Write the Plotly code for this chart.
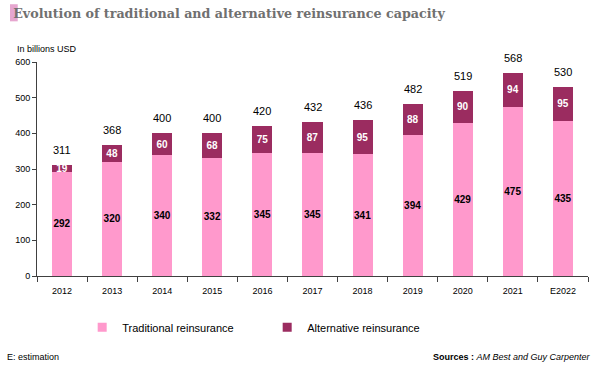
import plotly.graph_objects as go

years = ["2012", "2013", "2014", "2015", "2016", "2017", "2018", "2019", "2020", "2021", "E2022"]
traditional = [292, 320, 340, 332, 345, 345, 341, 394, 429, 475, 435]
alternative = [19, 48, 60, 68, 75, 87, 95, 88, 90, 94, 95]
totals = [311, 368, 400, 400, 420, 432, 436, 482, 519, 568, 530]
y_ticks = [0, 100, 200, 300, 400, 500, 600]

PINK = "#FF99CC"
PLUM = "#9B2C60"
FONT = "Liberation Sans, Arial, sans-serif"

fig = go.Figure()
fig.add_bar(x=years, y=traditional, name="Traditional reinsurance",
            marker=dict(color=PINK, line=dict(width=0)),
            text=[str(v) for v in traditional], textposition="inside",
            insidetextanchor="middle", textangle=0, showlegend=False,
            textfont=dict(color="black", size=10, family=FONT, weight="bold"),
            width=0.4)
fig.add_bar(x=years, y=alternative, name="Alternative reinsurance",
            marker=dict(color=PLUM, line=dict(width=0)),
            text=[str(v) for v in alternative], textposition="inside",
            insidetextanchor="middle", textangle=0, showlegend=False,
            textfont=dict(color="white", size=10, family=FONT, weight="bold"),
            width=0.4)
# legend entries with small square swatches
for name, col in [("Traditional reinsurance", PINK), ("Alternative reinsurance", PLUM)]:
    fig.add_scatter(x=[None], y=[None], mode="markers", name=name,
                    marker=dict(symbol="square", size=9, color=col))

for i, (t, tr, al) in enumerate(zip(totals, traditional, alternative)):
    fig.add_annotation(x=i, y=tr + al, text=str(t), showarrow=False,
                       yanchor="bottom", yshift=7,
                       font=dict(size=11, color="black", family=FONT))

fig.add_annotation(xref="paper", yref="paper", x=-0.04, y=1.03, xanchor="left", yanchor="bottom",
                   text="In billions USD", showarrow=False,
                   font=dict(size=9, color="black", family=FONT))
fig.add_annotation(xref="paper", yref="paper", x=-0.058, y=-0.38, xanchor="left", yanchor="middle",
                   text="E: estimation", showarrow=False,
                   font=dict(size=9, color="black", family=FONT))
fig.add_annotation(xref="paper", yref="paper", x=1.009, y=-0.38, xanchor="right", yanchor="middle",
                   text="<b>Sources :</b> <i>AM Best and Guy Carpenter</i>", showarrow=False,
                   font=dict(size=9, color="black", family=FONT))

fig.add_shape(type="rect", xref="paper", yref="paper", x0=-0.049, x1=-0.035, y0=1.19, y1=1.27,
              fillcolor="#E6A6CF", line=dict(width=0), layer="below")

fig.update_layout(
    width=600, height=373,
    margin=dict(l=37, r=12, t=62, b=97),
    paper_bgcolor="white", plot_bgcolor="white",
    barmode="stack",
    uniformtext=dict(minsize=10, mode="show"),
    title=dict(text="<b>Evolution of traditional and alternative reinsurance capacity</b>",
               x=0.022, xanchor="left", y=0.965, yanchor="middle",
               font=dict(family="DejaVu Serif, serif", size=12.7, color="#707070")),
    font=dict(family=FONT, size=9, color="black"),
    showlegend=True,
    legend=dict(orientation="h", x=0.082, xanchor="left", y=-0.24, yanchor="middle",
                entrywidth=140, entrywidthmode="pixels",
                font=dict(size=11, family=FONT, color="black"),
                itemwidth=30, traceorder="normal"),
    xaxis=dict(type="category", showline=True, linecolor="#404040", linewidth=1, ticks="outside",
               tickson="boundaries", ticklen=5, tickcolor="#404040", ticklabelstandoff=6,
               tickfont=dict(size=9, family=FONT), showgrid=False),
    yaxis=dict(range=[0, 600], tickvals=y_ticks, showline=True, linecolor="#404040",
               linewidth=1, ticks="outside", ticklen=4, tickcolor="#404040",
               showgrid=False, zeroline=False, tickfont=dict(size=9, family=FONT)),
)

fig.write_html("out.html", config={"displayModeBar": False},
               post_script="document.body.style.margin='0';")
